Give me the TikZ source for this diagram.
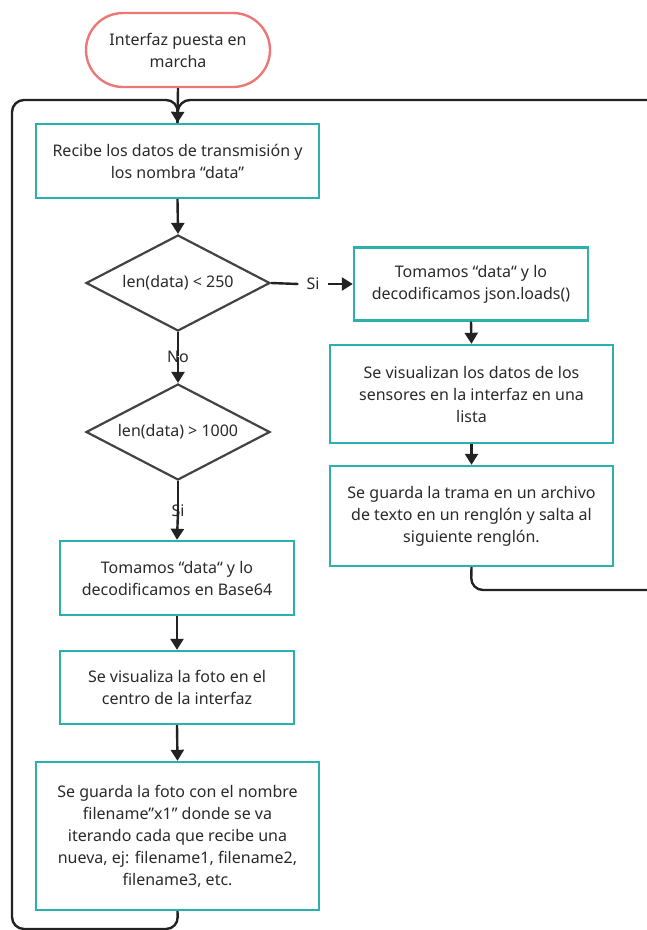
\documentclass[tikz,border=0pt]{standalone}
\usepackage{fontspec}
\setmainfont{Noto Sans}
\usetikzlibrary{shapes.geometric,arrows.meta}
\definecolor{teal1}{HTML}{2BB0AE}
\definecolor{pink1}{HTML}{EB7777}
\definecolor{ink}{HTML}{222222}
\definecolor{txt}{HTML}{2A2A2A}
\tikzset{
  every node/.style={font=\fontsize{16}{22}\selectfont, text=txt},
  procbox/.style={draw=teal1, line width=2.4pt, align=center, inner sep=0pt},
  termbox/.style={draw=pink1, line width=2.4pt, rounded corners=37pt, align=center, minimum width=184pt, minimum height=74pt},
  decision/.style={diamond, draw=ink!85, line width=2.2pt, aspect=1.92, inner sep=0pt, minimum width=184pt, minimum height=96pt, align=center},
  conn/.style={draw=ink, line width=2.4pt},
  arr/.style={conn, -{Triangle[length=11pt,width=13pt]}},
  lbl/.style={inner sep=0pt}
}
\begin{document}
\begin{tikzpicture}[x=1pt,y=-1pt]
\path[use as bounding box] (0,0) rectangle (647,930);
\begin{scope}
\clip (0,0) rectangle (647,930);
\node[termbox] (start) at (178,50) {Interfaz puesta en\\marcha};
\node[procbox, minimum width=283pt, minimum height=74pt] (b1) at (177.5,161) {Recibe los datos de transmisión y\\los nombra “data”};
\node[decision] (d1) at (178,283) {len(data) < 250};
\node[procbox, minimum width=234pt, minimum height=73pt] (b2) at (471,284) {Tomamos “data“ y lo\\decodificamos json.loads()};
\node[procbox, minimum width=283pt, minimum height=98pt] (b3) at (471.5,394) {Se visualizan los datos de los\\sensores en la interfaz en una\\lista};
\node[procbox, minimum width=283pt, minimum height=100pt] (b4) at (471.5,516) {Se guarda la trama en un archivo\\de texto en un renglón y salta al\\siguiente renglón.};
\node[decision] (d2) at (178,432) {len(data) > 1000};
\node[procbox, minimum width=234pt, minimum height=74pt] (b5) at (177,578) {Tomamos “data“ y lo\\decodificamos en Base64};
\node[procbox, minimum width=234pt, minimum height=73pt] (b6) at (177,687.5) {Se visualiza la foto en el\\centro de la interfaz};
\node[procbox, minimum width=283pt, minimum height=148pt] (b7) at (177.5,836) {Se guarda la foto con el nombre\\filename”x1” donde se va\\iterando cada que recibe una\\nueva, ej: filename1, filename2,\\filename3, etc.};
\node[lbl] (si1) at (313,284) {Si};
\node[lbl] (no1) at (178,357) {No};
\node[lbl] (si2) at (178,511) {Si};
% connectors
\draw[arr] (start.south) -- (b1.north);
\draw[arr] (b1.south) -- (d1.north);
\draw[conn] (d1.east) -- ([xshift=-8pt]si1.west);
\draw[arr] ([xshift=8pt]si1.east) -- (b2.west);
\draw[arr] (b2.south) -- (b3.north);
\draw[arr] (b3.south) -- (b4.north);
\draw[conn] (d1.south) -- ([yshift=-5pt]no1.north);
\draw[arr] ([yshift=6pt]no1.south) -- (d2.north);
\draw[conn] (d2.south) -- ([yshift=-6pt]si2.north);
\draw[arr] ([yshift=6pt]si2.south) -- (b5.north);
\draw[arr] (b5.south) -- (b6.north);
\draw[arr] (b6.south) -- (b7.north);
\coordinate (top) at (178,100);
\draw[conn, rounded corners=12pt] (b7.south) -- (178,929) -- (12,929) -- (12,100) -- (top) -- (b1.north);
\draw[conn, rounded corners=12pt] (b4.south) -- (471,590) -- (670,590) -- (670,100) -- (top) -- (b1.north);
\end{scope}
\end{tikzpicture}
\end{document}
